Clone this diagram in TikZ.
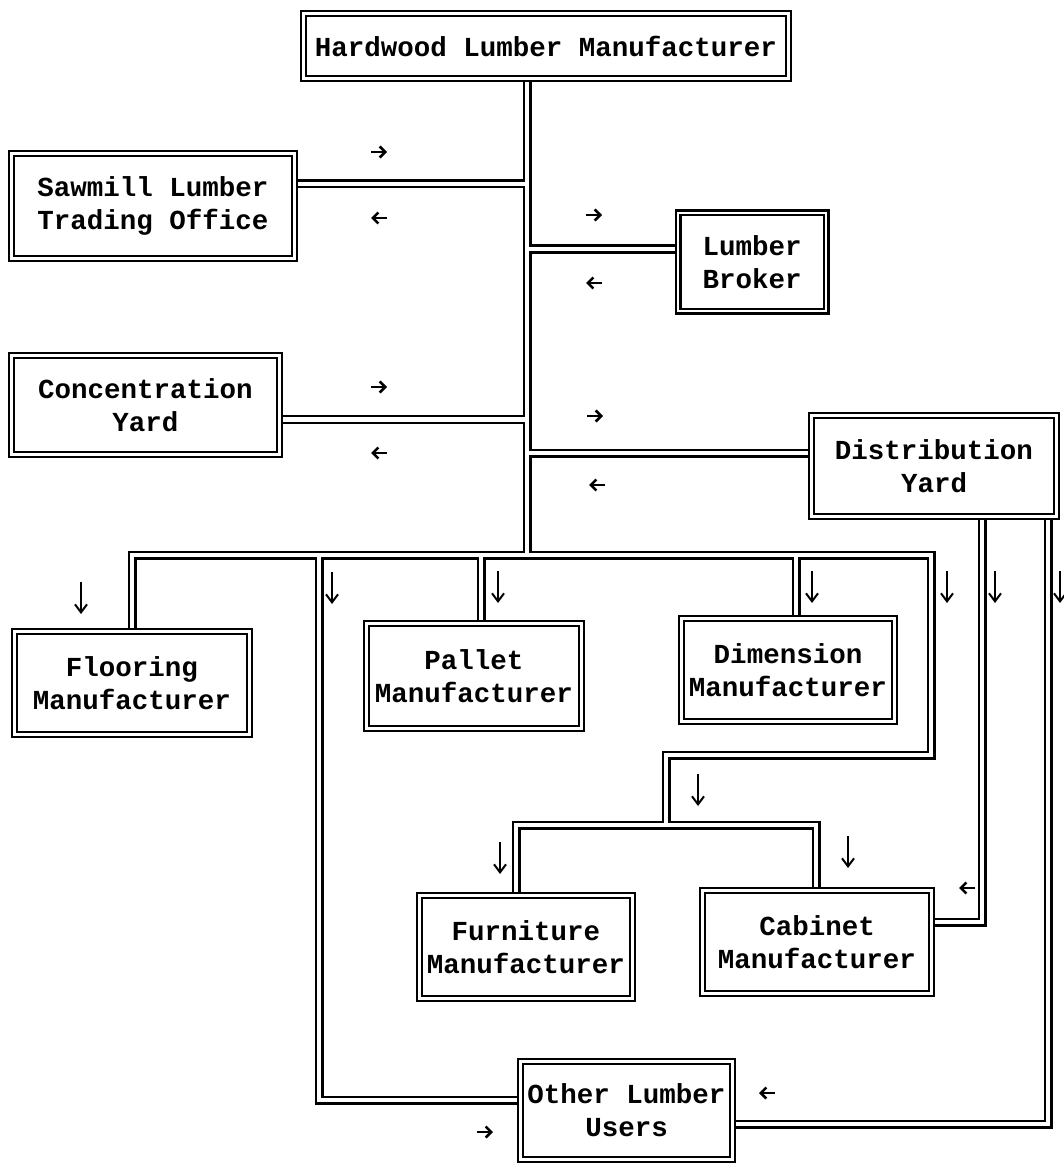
\documentclass[tikz,border=0pt]{standalone}
\usepackage{fontspec}
\newfontfamily\firmfont{Liberation Mono}
\usetikzlibrary{arrows.meta,backgrounds}

\tikzset{
  firm/.style={draw, double, line width=2.2pt, double distance=2.6pt, fill=white,
    align=center, inner sep=0pt, font=\firmfont\bfseries\fontsize{27.5}{33}\selectfont},
  flow/.style={line width=2.6pt, -{Straight Barb[length=5.5pt,width=11pt]}},
  drop/.style={line width=2pt, -{Straight Barb[length=8pt,width=12pt]}},
}
% small direction marks beside the pipes
\newcommand{\rmark}[1]{\draw[flow] (#1) ++(-8,0) -- ++(16,0);}
\newcommand{\lmark}[1]{\draw[flow] (#1) ++(8,0) -- ++(-16,0);}
\newcommand{\dmark}[1]{\draw[drop] (#1) ++(0,-16) -- ++(0,32);}

\begin{document}
\begin{tikzpicture}[x=1pt, y=-1pt]
  \useasboundingbox (0,0) rectangle (1063,1166);

  % boxes
  \node[firm, minimum width=485pt, minimum height=65pt] (top) at (546,46) {Hardwood Lumber Manufacturer};
  \node[firm, minimum width=283pt, minimum height=105pt] (sawmill) at (153,206) {Sawmill Lumber\\Trading Office};
  \node[firm, minimum width=148pt, minimum height=98pt] (broker) at (752,262) {Lumber\\Broker};
  \node[firm, minimum width=268pt, minimum height=99pt] (conc) at (145.5,405) {Concentration\\Yard};
  \node[firm, minimum width=245pt, minimum height=101pt] (dist) at (934,466) {Distribution\\Yard};
  \node[firm, minimum width=235pt, minimum height=103pt] (floor) at (132,683) {Flooring\\Manufacturer};
  \node[firm, minimum width=215pt, minimum height=105pt] (pallet) at (474,676) {Pallet\\Manufacturer};
  \node[firm, minimum width=213pt, minimum height=103pt] (dim) at (788,670) {Dimension\\Manufacturer};
  \node[firm, minimum width=213pt, minimum height=103pt] (furn) at (526,947) {Furniture\\Manufacturer};
  \node[firm, minimum width=229pt, minimum height=103pt] (cab) at (817,942) {Cabinet\\Manufacturer};
  \node[firm, minimum width=212pt, minimum height=98pt] (other) at (626.5,1110.5) {Other Lumber\\Users};

  \coordinate (hub) at (527,555);

  % pipes: black pass, then white pass
  \begin{scope}[on background layer]
    \foreach \w/\c in {9pt/black, 4.2pt/white} {
      \draw[line width=\w, draw=\c]
        (527,0 |- top.south) -- (hub)
        (sawmill.east |- 0,184) -- (527,184)
        (527,249) -- (broker.west |- 0,249)
        (conc.east |- 0,419.5) -- (527,419.5)
        (527,453) -- (dist.west |- 0,453)
        (floor.north) |- (931,555) -- (931,755) -| (666,825)
        (516,0 |- furn.north) |- (816,825) -- (816,0 |- cab.north)
        (319,555) |- (other.west |- 0,1100)
        (481,555) -- (481,0 |- pallet.north)
        (796,555) -- (796,0 |- dim.north)
        (982,0 |- dist.south) |- (cab.east |- 0,922)
        (1048,0 |- dist.south) |- (other.east |- 0,1124);
    }
  \end{scope}

  % direction marks
  \rmark{379,152} \lmark{379,218}
  \rmark{594,215} \lmark{594,283}
  \rmark{379,387} \lmark{379,453}
  \rmark{595,416} \lmark{597,485}
  \lmark{967,888}
  \lmark{767,1093} \rmark{485,1132}
  \foreach \p in {{81,598}, {332,588}, {498,587}, {812,587}, {947,587}, {995,587}, {1060,587}, {698,790}, {500,858}, {848,852}} {
    \dmark{\p}
  }
\end{tikzpicture}
\end{document}
